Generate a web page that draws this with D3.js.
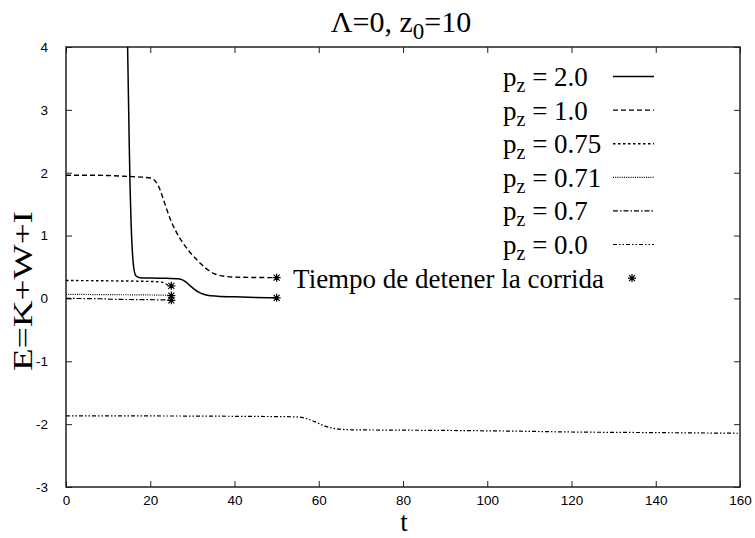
<!DOCTYPE html>
<html>
<head>
<meta charset="utf-8">
<script src="https://cdn.jsdelivr.net/npm/d3@7"></script>
<style>
  html, body { margin: 0; padding: 0; background: #fff; }
  svg { display: block; }
</style>
</head>
<body>
<svg id="chart" width="755" height="538"></svg>
<script>
// ---------- data ----------
const xTicks = [0, 20, 40, 60, 80, 100, 120, 140, 160];
const yTicks = [-3, -2, -1, 0, 1, 2, 3, 4];

const t_pz20 = [14.55, 14.7, 14.85, 15.0, 15.2, 15.45, 15.75, 16.1, 16.6, 17.5, 20, 24, 26.5, 27.5, 28.5, 29.5, 30.5, 31.5, 32.5, 33.5, 36, 40, 45, 50];
const E_pz20 = [4.3, 3.7, 3.1, 2.5, 1.8, 1.2, 0.75, 0.48, 0.36, 0.33, 0.325, 0.32, 0.315, 0.30, 0.26, 0.20, 0.145, 0.10, 0.07, 0.05, 0.035, 0.025, 0.015, 0.01];

const t_pz10 = [0, 5, 10, 15, 18, 20, 21, 22, 23, 24, 25, 26, 27, 28, 29, 30, 31, 32, 33, 34, 35, 36, 38, 40, 43, 46, 50];
const E_pz10 = [1.96, 1.96, 1.955, 1.94, 1.93, 1.915, 1.88, 1.78, 1.6, 1.4, 1.22, 1.08, 0.96, 0.86, 0.77, 0.69, 0.62, 0.55, 0.49, 0.44, 0.40, 0.375, 0.35, 0.34, 0.335, 0.333, 0.33];

const t_pz075 = [0, 10, 20, 23, 24, 25];
const E_pz075 = [0.285, 0.28, 0.27, 0.255, 0.22, 0.20];

const t_pz071 = [0, 10, 20, 24, 25];
const E_pz071 = [0.065, 0.06, 0.055, 0.05, 0.045];

const t_pz07 = [0, 8, 12, 20, 24, 25];
const E_pz07 = [0.0, -0.005, -0.015, -0.02, -0.025, -0.03];

const t_pz00 = [0, 20, 40, 50, 55, 57, 59, 61, 63, 65, 68, 75, 90, 105, 120, 140, 160];
const E_pz00 = [-1.87, -1.87, -1.875, -1.88, -1.885, -1.91, -1.96, -2.02, -2.06, -2.08, -2.09, -2.094, -2.10, -2.11, -2.125, -2.135, -2.145];

// end-of-run markers (Tiempo de detener la corrida)
const stopT = [50, 50, 25, 25, 25];
const stopE = [0.01, 0.33, 0.20, 0.045, -0.03];

const seriesNames = ["2.0", "1.0", "0.75", "0.71", "0.7", "0.0"];
const stopLabel = "Tiempo de detener la corrida";

// ---------- layout ----------
const svg = d3.select("#chart");
const X0 = 66, X1 = 740, Y0 = 47, Y1 = 487;
const x = d3.scaleLinear().domain([0, 160]).range([X0, X1]);
const y = d3.scaleLinear().domain([-3, 4]).range([Y1, Y0]);

const serif = "'Liberation Serif', 'Times New Roman', serif";
const sans = "'Liberation Sans', Arial, sans-serif";

const dashes = [null, "5,3", "2.5,2.5", "1,1.2", "5,2,1.5,2", "4,2,1.5,2,1.5,2"];
const widths = [1.5, 1.4, 1.4, 1.2, 1.2, 1.2];

svg.append("defs").append("clipPath").attr("id", "clip")
  .append("rect").attr("x", X0).attr("y", Y0).attr("width", X1 - X0).attr("height", Y1 - Y0);

// axes with inward ticks (mirrored)
const tickLen = 6;
const fmt = d => String(d);
const axB = d3.axisBottom(x).tickValues(xTicks).tickFormat(fmt).tickSizeInner(-tickLen).tickSizeOuter(0).tickPadding(8);
const axT = d3.axisTop(x).tickValues(xTicks).tickSizeInner(-tickLen).tickSizeOuter(0).tickFormat("");
const axL = d3.axisLeft(y).tickValues(yTicks).tickFormat(fmt).tickSizeInner(-tickLen).tickSizeOuter(0).tickPadding(18);
const axR = d3.axisRight(y).tickValues(yTicks).tickSizeInner(-tickLen).tickSizeOuter(0).tickFormat("");

function styleAxis(g) {
  g.select(".domain").remove();
  g.selectAll(".tick line").attr("stroke", "#222").attr("stroke-width", 1);
  g.selectAll(".tick text").attr("fill", "#000").style("font-family", sans).style("font-size", "13.5px");
}
svg.append("g").attr("transform", `translate(0,${Y1})`).call(axB).call(styleAxis);
svg.append("g").attr("transform", `translate(0,${Y0})`).call(axT).call(styleAxis);
svg.append("g").attr("transform", `translate(${X0},0)`).call(axL).call(styleAxis);
svg.append("g").attr("transform", `translate(${X1},0)`).call(axR).call(styleAxis);

// border
svg.append("rect").attr("x", X0).attr("y", Y0).attr("width", X1 - X0).attr("height", Y1 - Y0)
  .attr("fill", "none").attr("stroke", "#222").attr("stroke-width", 1.5);

// lines
const series = [
  [t_pz20, E_pz20], [t_pz10, E_pz10], [t_pz075, E_pz075],
  [t_pz071, E_pz071], [t_pz07, E_pz07], [t_pz00, E_pz00]
];
const line = d3.line().x(d => x(d[0])).y(d => y(d[1])).curve(d3.curveMonotoneX);
const plot = svg.append("g").attr("clip-path", "url(#clip)");
series.forEach((s, i) => {
  const pts = s[0].map((t, k) => [t, s[1][k]]);
  plot.append("path").attr("d", line(pts))
    .attr("fill", "none").attr("stroke", "#000")
    .attr("stroke-width", widths[i])
    .attr("stroke-dasharray", dashes[i]);
});

// star markers
function star(g, cx, cy, r) {
  const p = `M${cx - r},${cy}H${cx + r}M${cx},${cy - r}V${cy + r}` +
            `M${cx - r * 0.75},${cy - r * 0.75}L${cx + r * 0.75},${cy + r * 0.75}` +
            `M${cx - r * 0.75},${cy + r * 0.75}L${cx + r * 0.75},${cy - r * 0.75}`;
  g.append("path").attr("d", p).attr("stroke", "#000").attr("stroke-width", 1.2).attr("fill", "none");
}
stopT.forEach((t, i) => star(plot, x(t), y(stopE[i]), 4));

// legend
const legTextX = 503, legLineX0 = 613, legLineX1 = 654, legY0 = 76.5, legDy = 33.6;
const leg = svg.append("g");
seriesNames.forEach((name, i) => {
  const cy = legY0 + i * legDy;
  const tx = leg.append("text").attr("x", legTextX).attr("y", cy + 9.5)
    .style("font-family", serif).style("font-size", "27px").attr("fill", "#000");
  tx.append("tspan").text("p");
  tx.append("tspan").attr("dy", 6).style("font-size", "20px").text("z");
  tx.append("tspan").attr("dy", -6).text(" = " + name);
  leg.append("line").attr("x1", legLineX0).attr("x2", legLineX1).attr("y1", cy).attr("y2", cy)
    .attr("stroke", "#000").attr("stroke-width", widths[i]).attr("stroke-dasharray", dashes[i]);
});
const cyS = legY0 + 6 * legDy;
leg.append("text").attr("x", 604).attr("y", cyS + 9.5).attr("text-anchor", "end")
  .style("font-family", serif).style("font-size", "27px").text(stopLabel);
star(leg, 632, cyS, 4);

// title
const title = svg.append("text").attr("x", 401).attr("y", 31.5).attr("text-anchor", "middle")
  .style("font-family", serif).style("font-size", "30px");
title.append("tspan").text("Λ=0, z");
title.append("tspan").attr("dy", 7).style("font-size", "23px").text("0");
title.append("tspan").attr("dy", -7).text("=10");

// axis labels
svg.append("text").attr("x", 404).attr("y", 531).attr("text-anchor", "middle")
  .style("font-family", serif).style("font-size", "27px").text("t");
svg.append("text").attr("transform", "translate(32,291) rotate(-90)").attr("text-anchor", "middle")
  .attr("textLength", 160).attr("lengthAdjust", "spacingAndGlyphs")
  .style("font-family", serif).style("font-size", "27px").text("E=K+W+I");
</script>
</body>
</html>
